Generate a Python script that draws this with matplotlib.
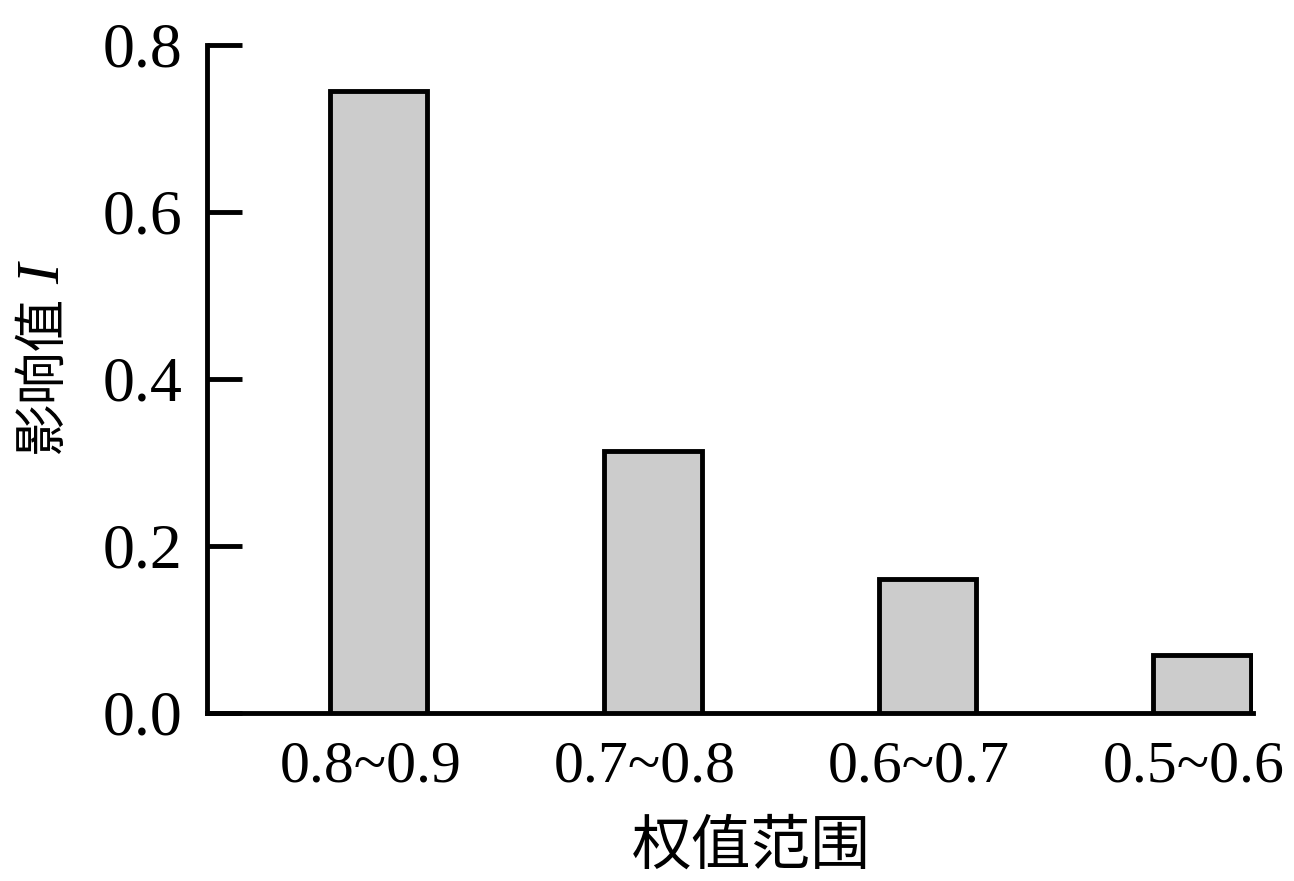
import matplotlib
matplotlib.use("Agg")
import matplotlib.pyplot as plt
import numpy as np

# data
categories = ["0.8~0.9", "0.7~0.8", "0.6~0.7", "0.5~0.6"]
values = [0.745, 0.314, 0.160, 0.069]
yticks = [0.0, 0.2, 0.4, 0.6, 0.8]

serif = ["Liberation Serif", "DejaVu Serif"]
cjk = ["Noto Sans CJK SC", "DejaVu Sans"]

fig = plt.figure(figsize=(12.94, 8.81), dpi=100)
ax = fig.add_axes([0.16, 0.191, 0.808, 0.758])

x = np.arange(len(categories))
ax.bar(x, values, width=0.356, color="#cccccc", edgecolor="black", linewidth=3.5, zorder=3)

ax.set_xlim(-0.625, 3.185)
ax.set_ylim(0, 0.8)

ax.spines["top"].set_visible(False)
ax.spines["right"].set_visible(False)
ax.spines["left"].set_linewidth(3.5)
ax.spines["bottom"].set_linewidth(3.5)

ax.set_yticks(yticks)
ax.set_yticklabels(["%.1f" % t for t in yticks], family=serif, fontsize=46)
ax.tick_params(axis="y", direction="in", length=25, width=3.5, pad=18)

ax.set_xticks(x - 0.03)
ax.set_xticklabels(categories, family=serif, fontsize=43)
ax.tick_params(axis="x", length=0, pad=20)

# axis titles
fig.text(0.581, 0.038, "权值范围", family=cjk, fontsize=43, ha="center", va="center")
fig.text(0.032, 0.575, "影响值", family=cjk, fontsize=38, rotation=90, ha="center", va="center")
fig.text(0.034, 0.689, "I", family=serif, style="italic", fontsize=44, rotation=90, ha="center", va="center")

fig.savefig("out.png", dpi=100)
